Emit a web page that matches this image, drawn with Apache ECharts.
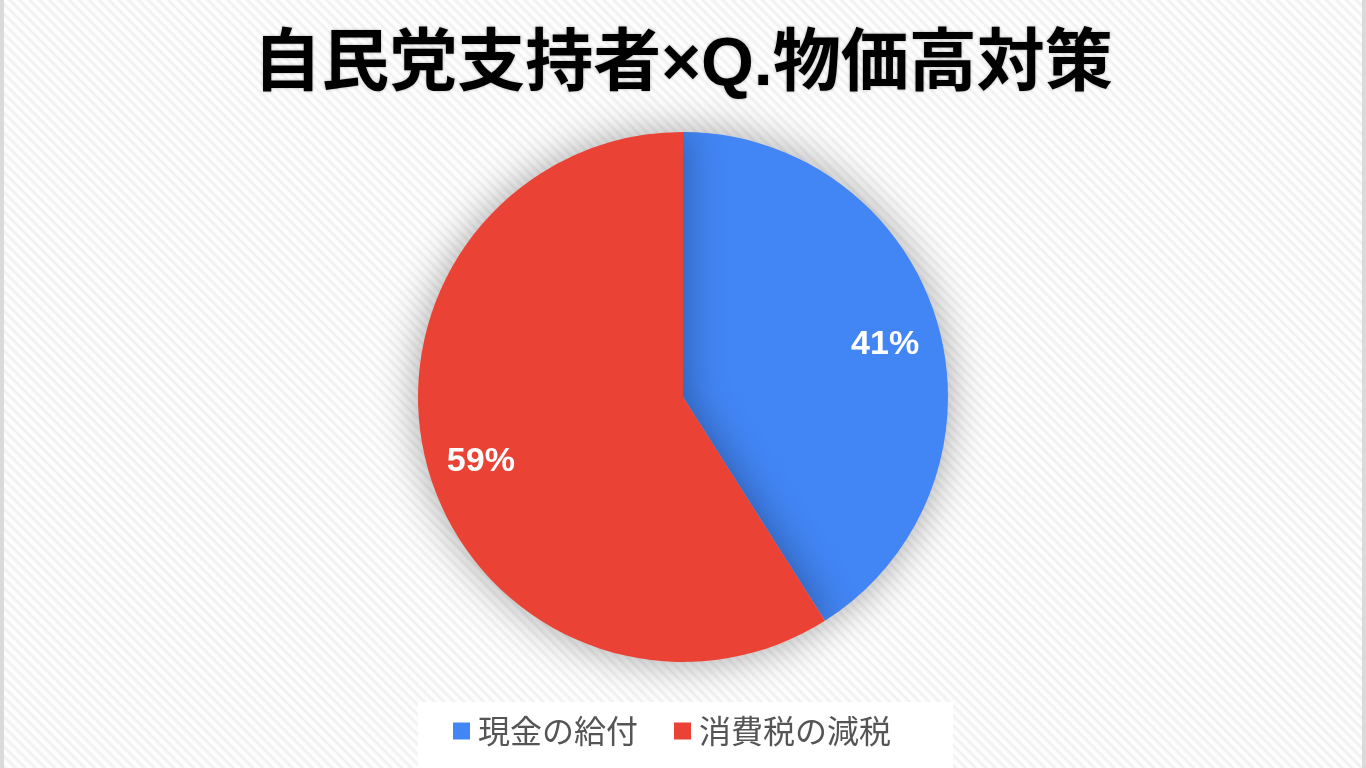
<!DOCTYPE html>
<html><head><meta charset="utf-8">
<script src="https://cdn.jsdelivr.net/npm/echarts@6/dist/echarts.min.js"></script>
<style>
html,body{margin:0;padding:0;width:1366px;height:768px;overflow:hidden;}
body{background:repeating-linear-gradient(45deg,#ffffff 0px,#fbfbfb 2px,#efefef 4px,#fbfbfb 6px,#ffffff 7px);}
#c{position:absolute;left:0;top:0;width:1366px;height:768px;}
.bl{position:absolute;top:0;left:0;width:4px;height:768px;background:#dadada;}
.br{position:absolute;top:0;right:0;width:4px;height:768px;background:#dadada;}
</style></head>
<body><div id="c"></div><div class="bl"></div><div class="br"></div>
<script>
const titleText = '自民党支持者×Q.物価高対策';
const categories = ['現金の給付', '消費税の減税'];
const values = [41, 59];
const colors = ['#4285f4', '#ea4335'];

const data = categories.map((n, i) => ({name: n, value: values[i], itemStyle: {color: colors[i]}}));
const labelData = categories.map((n, i) => ({name: n, value: values[i], itemStyle: {color: 'rgba(0,0,0,0)'}}));
const chart = echarts.init(document.getElementById('c'));
chart.setOption({
  backgroundColor: 'transparent',
  title: {
    text: titleText, left: 'center', top: 27,
    textStyle: {fontFamily: 'Liberation Sans, Noto Sans CJK JP', fontWeight: 'bold', fontSize: 68, color: '#000',
      textShadowColor: 'rgba(0,0,0,0.3)', textShadowBlur: 3}
  },
  legend: {
    bottom: 0, left: 418,
    itemWidth: 17, itemHeight: 17, itemGap: 36, icon: 'rect',
    backgroundColor: '#ffffff',
    padding: [13, 62, 21, 35],
    textStyle: {fontFamily: 'Noto Sans CJK JP', fontSize: 32, color: '#555', padding: [0, 0, 0, 3]},
    data: categories
  },
  series: [{
    type: 'pie', center: [683, 397], radius: 265, startAngle: 90, clockwise: true,
    silent: true, legendHoverLink: false,
    itemStyle: {shadowBlur: 40, shadowColor: 'rgba(0,0,0,0.35)'},
    label: {show: false}, labelLine: {show: false},
    data: data
  }, {
    type: 'pie', center: [683, 397], radius: [150, 265], startAngle: 90, clockwise: true,
    silent: true,
    label: {show: true, position: 'inside', formatter: p => p.value + '%', offset: [0, 6],
      fontFamily: 'Liberation Sans', fontWeight: 'bold', fontSize: 34, color: '#fff'},
    labelLine: {show: false},
    data: labelData
  }]
});
</script></body></html>
